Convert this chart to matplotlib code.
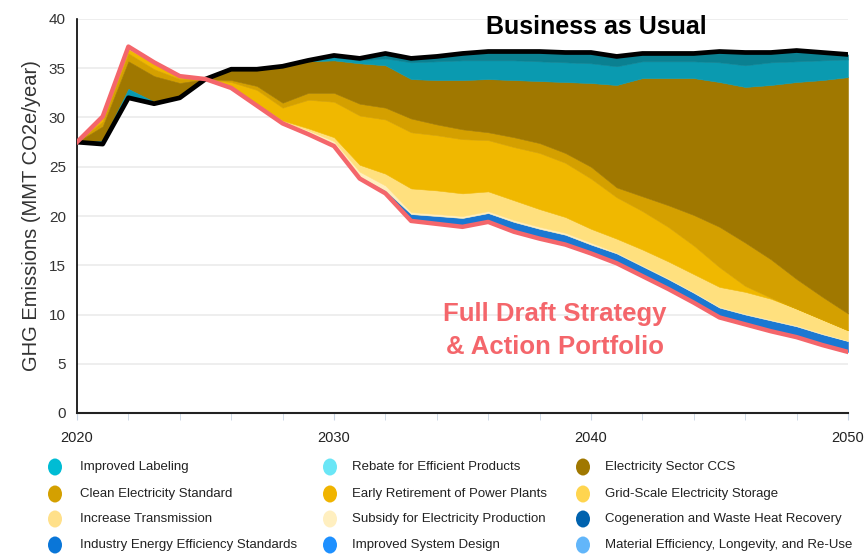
import matplotlib
matplotlib.use("Agg")
import numpy as np
import matplotlib.pyplot as plt
from matplotlib.patches import Ellipse
from matplotlib import font_manager

installed = {f.name for f in font_manager.fontManager.ttflist}
NARROW = "Liberation Sans Narrow" if "Liberation Sans Narrow" in installed else "Liberation Sans"

years = list(range(2020, 2051))

# Full Draft Strategy line (red)
strategy = [27.5, 30.1, 37.2, 35.6, 34.2, 33.9, 33.0, 31.2, 29.4, 28.3,
            27.1, 23.8, 22.3, 19.5, 19.2, 18.9, 19.4, 18.4, 17.7, 17.1,
            16.2, 15.2, 13.9, 12.6, 11.2, 9.7, 9.0, 8.3, 7.7, 6.9, 6.2]

# wedge sizes stacked from the strategy line up to Business as Usual
industry_ee = [0, -0.1, -0.3, -0.1, 0, 0, 0, 0, 0, 0,
               0.05, 0.2, 0.3, 0.7, 0.8, 0.9, 0.9, 1.0, 1.0, 1.0,
               0.9, 1.0, 1.0, 1.0, 1.0, 1.0, 1.0, 1.1, 1.1, 1.1, 1.1]
subsidy = [0, 0, 0, 0, 0, 0, 0, 0.1, 0.2, 0.4,
           0.45, 0.5, 0.5, 0.2, 0.2, 0.2, 0.2, 0.2, 0.2, 0.2,
           0.2, 0.1, 0.1, 0.1, 0.1, 0.1, 0.1, 0.1, 0.1, 0.1, 0.05]
transmission = [0, 0, 0, 0, 0, 0, 0, 0.1, 0.1, 0.2,
                0.4, 0.7, 1.2, 2.4, 2.4, 2.3, 2.0, 2.0, 1.8, 1.6,
                1.4, 1.4, 1.6, 1.7, 1.8, 2.0, 2.2, 2.1, 1.7, 1.4, 1.05]
early_retirement = [0, -0.4, -0.4, -0.6, -0.3, 0, 0.6, 1.4, 1.3, 2.9,
                    3.6, 5.0, 5.5, 5.7, 5.6, 5.5, 5.2, 5.4, 5.7, 5.5,
                    5.1, 4.2, 3.9, 3.5, 2.9, 2.0, 0.6, 0.1, 0, 0, 0]
clean_standard = [0, -0.5, -0.8, -0.7, -0.4, 0, 0.2, 0.4, 0.5, 0.7,
                  0.9, 1.2, 1.2, 1.4, 1.1, 1.0, 0.8, 1.0, 1.0, 1.0,
                  1.2, 1.0, 1.5, 2.2, 3.1, 4.1, 4.4, 3.9, 3.0, 2.3, 1.7]
ccs = [0, -1.5, -2.8, -2.6, -1.4, 0, 1.1, 1.7, 3.7, 3.2,
       3.3, 4.1, 4.3, 4.0, 4.5, 5.0, 5.4, 5.8, 6.3, 7.2,
       8.5, 10.4, 12.0, 12.9, 13.9, 14.7, 15.8, 17.7, 20.0, 22.0, 24.0]
labeling = [0, -0.3, -0.6, -0.2, -0.1, 0, 0, 0, 0, 0.1,
            0.3, 0.3, 0.7, 1.7, 1.9, 2.0, 1.9, 2.0, 2.0, 2.0,
            2.0, 1.9, 1.7, 1.7, 1.7, 2.0, 2.2, 2.3, 2.1, 2.0, 1.8]
labeling_top = [0, 0, -0.3, 0, 0, 0, 0, 0, 0, 0,
                0.2, 0.2, 0.5, 0.4, 0.5, 0.7, 0.9, 0.9, 1.0, 1.0,
                1.1, 1.0, 0.8, 0.8, 0.8, 1.1, 1.3, 1.0, 1.1, 0.8, 0.5]

wedges = [industry_ee, subsidy, transmission, early_retirement,
          clean_standard, ccs, labeling, labeling_top]
wedge_colors = ["#1A78D2", "#FFEFBE", "#FFE07E", "#F0B800",
                "#D4A000", "#A07800", "#0A9AB0", "#0A8091"]

legend_labels = [
    "Improved Labeling", "Rebate for Efficient Products", "Electricity Sector CCS",
    "Clean Electricity Standard", "Early Retirement of Power Plants", "Grid-Scale Electricity Storage",
    "Increase Transmission", "Subsidy for Electricity Production", "Cogeneration and Waste Heat Recovery",
    "Industry Energy Efficiency Standards", "Improved System Design", "Material Efficiency, Longevity, and Re-Use",
]
legend_colors = [
    "#00BCD4", "#6AE6F6", "#A07800",
    "#D4A000", "#F0B400", "#FFD54F",
    "#FFE08A", "#FFEFC0", "#0062AE",
    "#0A76D8", "#1E90FF", "#62B6FA",
]

fig = plt.figure(figsize=(8.68, 5.58), dpi=100)
ax = fig.add_axes([77 / 868, 1 - 413 / 558, (848 - 77) / 868, (413 - 19) / 558])

x = np.array(years)
base = np.array(strategy, dtype=float)
for w, c in zip(wedges, wedge_colors):
    top = base + np.array(w)
    ax.fill_between(x, base, top, color=c, lw=0.4, edgecolor=c, zorder=2)
    base = top
bau = base

ax.plot(x, bau, color="black", lw=3.4, zorder=4, solid_joinstyle="round")
ax.plot(x, strategy, color="#F4666B", lw=3.2, zorder=5, solid_joinstyle="round")

ax.set_xlim(2020, 2050)
ax.set_ylim(0, 40)
ax.set_yticks(range(0, 41, 5))
ax.set_xticks([2020, 2030, 2040, 2050])
ax.set_xticks(range(2020, 2051, 2), minor=True)
ax.grid(axis="y", color="#EBEBEB", lw=1.2, zorder=0)
ax.set_axisbelow(True)
for s in ["top", "right"]:
    ax.spines[s].set_visible(False)
ax.spines["left"].set_color("black")
ax.spines["bottom"].set_color("#222222")
ax.spines["left"].set_linewidth(1.2)
ax.spines["bottom"].set_linewidth(1.5)
ax.tick_params(axis="y", length=0, pad=8, labelsize=11, labelcolor="#333333")
ax.tick_params(axis="x", which="both", length=5, color="#C8D4E4", pad=8,
               labelsize=10.5, labelcolor="#222222")
for lab in ax.get_yticklabels():
    lab.set_fontfamily("Liberation Sans")
for lab in ax.get_xticklabels():
    lab.set_fontfamily(NARROW)

ax.set_ylabel("GHG Emissions (MMT CO2e/year)", fontsize=14.5, color="#333333",
              family="Liberation Sans", labelpad=6)

ax.text(2040.2, 39.2, "Business as Usual", fontsize=18, fontweight="bold",
        family="Liberation Sans", va="center", ha="center", color="black")
ax.text(2038.6, 8.4, "Full Draft Strategy\n& Action Portfolio", fontsize=18.5,
        fontweight="bold", family="Liberation Sans", ha="center", va="center",
        color="#F4666B", linespacing=1.45)

# legend: 3 columns x 4 rows
col_marker = [55, 330, 583]
col_text = [80, 352, 605]
row_y = [467, 494, 519, 545]
W, H = 868, 558
for i, (lab, col) in enumerate(zip(legend_labels, legend_colors)):
    r, c = divmod(i, 3)
    fig.patches.append(Ellipse((col_marker[c] / W, 1 - row_y[r] / H), 14 / W, 17 / H,
                               transform=fig.transFigure, facecolor=col, edgecolor="none"))
    fig.text(col_text[c] / W, 1 - row_y[r] / H, lab, fontsize=9.5, family=NARROW,
             color="#222222", va="center", ha="left")

fig.savefig("out.png", dpi=100)
